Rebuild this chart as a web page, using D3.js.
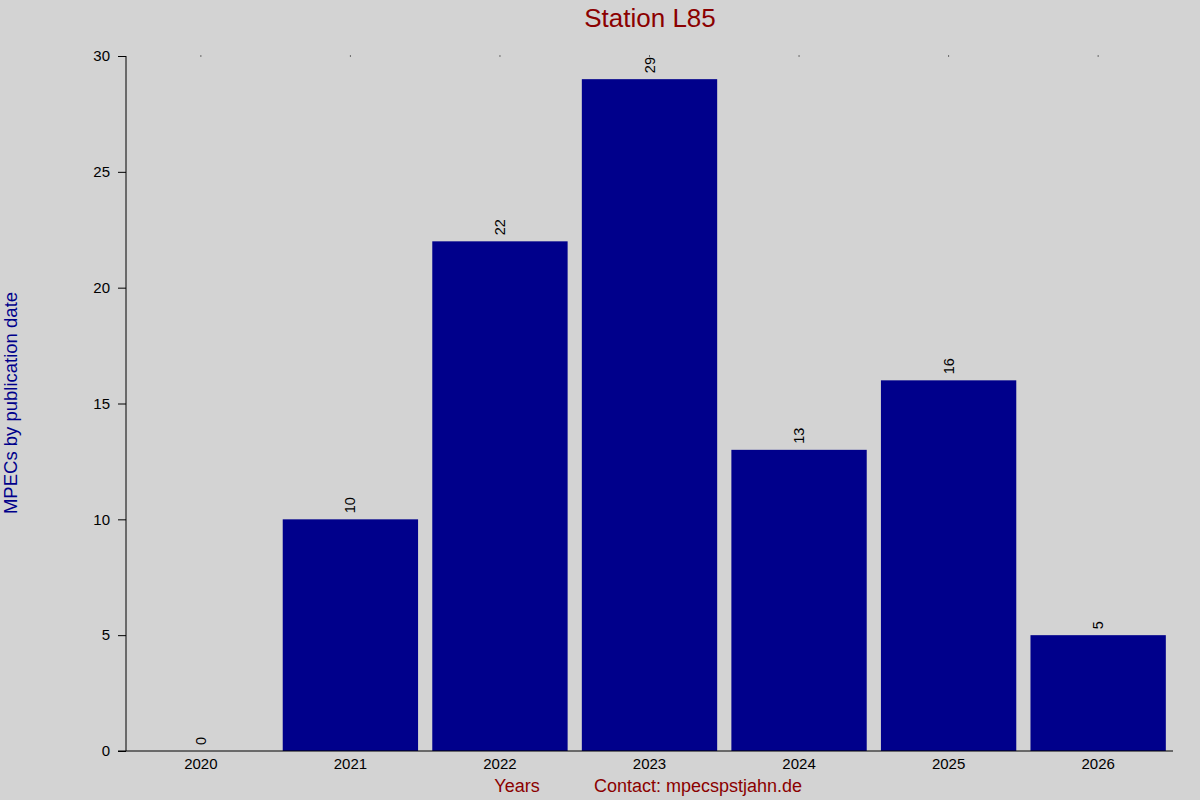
<!DOCTYPE html>
<html>
<head>
<meta charset="utf-8">
<script src="https://cdn.jsdelivr.net/npm/d3@7"></script>
<style>
  body { margin: 0; background: #d3d3d3; }
  svg { display: block; font-family: "Liberation Sans", Arial, sans-serif; }
</style>
</head>
<body>
<div id="chart"></div>
<script>
// Data
var years = ["2020", "2021", "2022", "2023", "2024", "2025", "2026"];
var counts = [0, 10, 22, 29, 13, 16, 5];
var yTicks = [0, 5, 10, 15, 20, 25, 30];

var width = 1200;
var height = 800;
var margin = {left: 126, top: 56, bottom: 49, right: 27};
var barColor = "#00008b";
var titleColor = "#8b0000";

var svg = d3.select("#chart")
            .append("svg")
            .attr("width", width)
            .attr("height", height);

svg.append("rect").attr("width", width).attr("height", height).attr("fill", "#d3d3d3");

var xScale = d3.scaleBand()
               .domain(years)
               .range([margin.left, width - margin.right])
               .paddingInner(0.095)
               .paddingOuter(0.048);

var yScale = d3.scaleLinear()
               .domain([0, 30])
               .range([height - margin.bottom, margin.top]);

// Bars
svg.selectAll(".bar")
   .data(counts)
   .enter()
   .append("rect")
   .attr("class", "bar")
   .attr("x", (d, i) => xScale(years[i]))
   .attr("y", (d) => yScale(d))
   .attr("width", xScale.bandwidth())
   .attr("height", (d) => yScale(0) - yScale(d))
   .attr("fill", barColor);

// Value labels, rotated
svg.selectAll(".val")
   .data(counts)
   .enter()
   .append("text")
   .attr("class", "val")
   .attr("transform", (d, i) => "translate(" + (xScale(years[i]) + xScale.bandwidth() / 2 + 5) + "," + (yScale(d) - 6) + ") rotate(-90)")
   .attr("font-size", 14.5)
   .attr("fill", "#000")
   .text((d) => d);

// Y axis
var yAxis = d3.axisLeft(yScale).tickValues(yTicks).tickSize(8).tickPadding(8);
var gy = svg.append("g")
   .attr("transform", "translate(" + margin.left + ",0)")
   .call(yAxis);
gy.select(".domain").attr("d", "M0," + yScale(30) + "V" + yScale(0));
gy.selectAll("text").attr("font-size", 15).attr("font-family", "Liberation Sans, Arial, sans-serif").attr("fill", "#000");
gy.selectAll("line").attr("stroke", "#000");

// X axis
var xAxis = d3.axisBottom(xScale).tickSize(0).tickPadding(7);
var gx = svg.append("g")
   .attr("transform", "translate(0," + yScale(0) + ")")
   .call(xAxis);
gx.select(".domain").attr("d", "M" + (margin.left - 8) + ",0H" + (width - margin.right));
gx.selectAll("text").attr("font-size", 15).attr("font-family", "Liberation Sans, Arial, sans-serif").attr("fill", "#000");

// Tiny tick dots at top
svg.selectAll(".topdot")
   .data(years)
   .enter()
   .append("rect")
   .attr("x", (d) => xScale(d) + xScale.bandwidth() / 2 - 0.5)
   .attr("y", margin.top - 0.5)
   .attr("width", 1)
   .attr("height", 1)
   .attr("fill", "#000");

// Title
svg.append("text")
   .attr("x", 650)
   .attr("y", 27)
   .attr("text-anchor", "middle")
   .attr("font-size", 26)
   .attr("fill", titleColor)
   .text("Station L85");

// Y label
svg.append("text")
   .attr("transform", "translate(17," + 403 + ") rotate(-90)")
   .attr("text-anchor", "middle")
   .attr("font-size", 18.5)
   .attr("fill", barColor)
   .text("MPECs by publication date");

// Bottom labels
svg.append("text")
   .attr("x", 517)
   .attr("y", 792)
   .attr("text-anchor", "middle")
   .attr("font-size", 18)
   .attr("fill", titleColor)
   .text("Years");

svg.append("text")
   .attr("x", 698)
   .attr("y", 792)
   .attr("text-anchor", "middle")
   .attr("font-size", 18)
   .attr("fill", titleColor)
   .text("Contact: mpecspstjahn.de");
</script>
</body>
</html>
